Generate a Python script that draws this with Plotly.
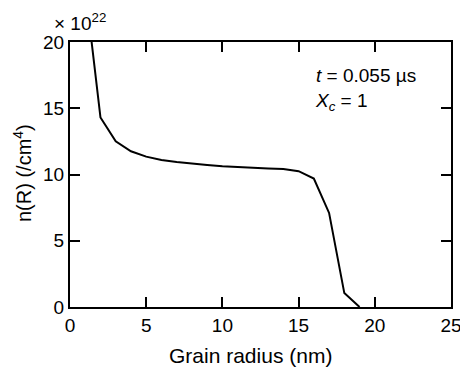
import plotly.graph_objects as go

radius_nm = [1, 2, 3, 4, 5, 6, 7, 8, 9, 10, 11, 12, 13, 14, 15, 16, 17, 18, 19]
n_R_e22 = [24.1, 14.3, 12.5, 11.75, 11.35, 11.1, 10.95, 10.82, 10.72, 10.63,
           10.56, 10.5, 10.46, 10.42, 10.25, 9.7, 7.1, 1.05, 0.0]
x_ticks = [0, 5, 10, 15, 20, 25]
y_ticks = [0, 5, 10, 15, 20]

FONT = "Liberation Sans, Arial, sans-serif"

# figure is a little wider than the 460px window so that the "25" tick label
# is drawn and then cut by the window edge, as in the reference
W, H = 470, 367
l, t = 70, 42
r, b = W - 451, 367 - 307
pw, ph = W - l - r, H - t - b


def px(x, y):
    """reference window pixel -> paper coordinates"""
    return (x - l) / pw, (H - b - y) / ph


fig = go.Figure()
fig.add_trace(go.Scatter(x=radius_nm, y=n_R_e22, mode="lines",
                         line=dict(color="black", width=2), showlegend=False))

axis_common = dict(showline=True, linecolor="black", linewidth=2, mirror="ticks",
                   ticks="inside", ticklen=10, tickwidth=2, tickcolor="black",
                   showgrid=False, zeroline=False, automargin=False,
                   tickfont=dict(family=FONT, size=19, color="black"))

fig.update_xaxes(range=[0, 25], tickvals=x_ticks, **axis_common)
fig.update_yaxes(range=[0, 20], tickvals=y_ticks, **axis_common)

ann = []
x0, y0 = px(250, 355)
ann.append(dict(text="Grain radius (nm)", x=x0, y=y0, xanchor="center", yanchor="middle",
                font=dict(size=21)))
x0, y0 = px(22, 173)
ann.append(dict(text="n(R) (/cm<sup>4</sup>)", x=x0, y=y0, textangle=-90,
                xanchor="center", yanchor="middle", font=dict(size=20)))
x0, y0 = px(52, 22)
ann.append(dict(text="× 10<sup>22</sup>", x=x0, y=y0, xanchor="left", yanchor="middle",
                font=dict(size=19)))
x0, y0 = px(313, 90)
ann.append(dict(text="<i>t</i> = 0.055 µs<br><i>X<sub>c</sub></i> = 1", x=x0, y=y0,
                xanchor="left", yanchor="middle", align="left", font=dict(size=19)))
for a in ann:
    a.update(xref="paper", yref="paper", showarrow=False)

fig.update_layout(
    width=W, height=H,
    margin=dict(l=l, r=r, t=t, b=b),
    paper_bgcolor="white", plot_bgcolor="white",
    font=dict(family=FONT, color="black"),
    annotations=ann,
)

fig.write_html(
    "out.html",
    config={"responsive": False, "displayModeBar": False},
    post_script="document.body.style.margin='0';document.body.style.overflow='hidden';",
)
